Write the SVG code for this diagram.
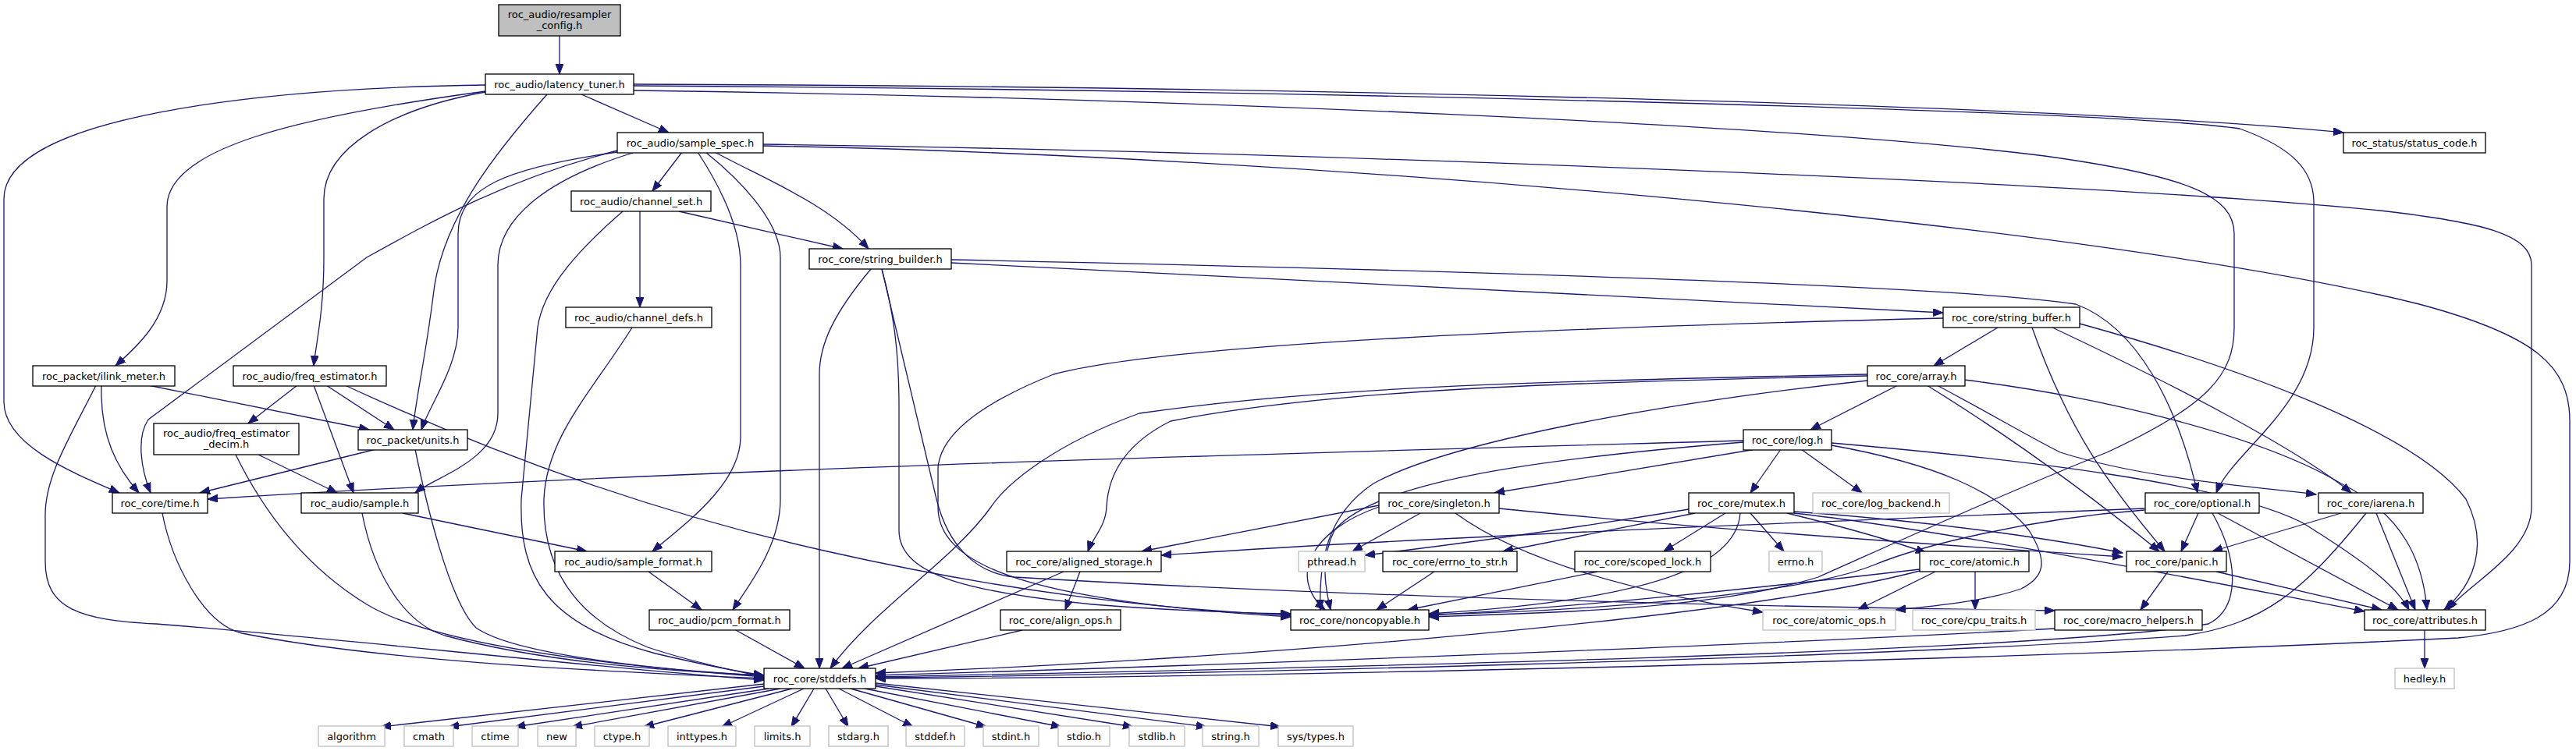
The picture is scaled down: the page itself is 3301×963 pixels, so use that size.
<svg xmlns="http://www.w3.org/2000/svg" width="3301" height="963" viewBox="0 0 3301 963">
<style>
.n rect{fill:#fff;stroke:#000;stroke-width:1.3}
.x rect{fill:#fff;stroke:#bfbfbf;stroke-width:1.3}
.r rect{fill:#bfbfbf;stroke:#000;stroke-width:1.3}
text{font-family:"DejaVu Sans",sans-serif;font-size:13px;fill:#000;text-anchor:middle}
#edges path{fill:none;stroke:#191970;stroke-width:1.3;marker-end:url(#a)}
</style>
<defs>
<marker id="a" markerWidth="14" markerHeight="11" refX="13" refY="5" orient="auto" markerUnits="userSpaceOnUse"><path d="M0,0 L13,5 L0,10 z" fill="#191970" stroke="#191970" stroke-width="1"/></marker>
</defs>
<rect width="3301" height="963" fill="#fff"/>
<g id="edges">
<path d="M717,46 L717,95"/>
<path d="M622,109 C330,113 5,150 5,255 L5,515 C5,570 90,605 153,632"/>
<path d="M622,117 C380,150 214,190 214,265 L214,360 C214,410 175,445 148,469"/>
<path d="M622,118 C500,140 415,190 415,255 L415,330 C415,400 405,440 402,469"/>
<path d="M701,121 C640,190 565,280 555,380 C545,460 533,510 529,551"/>
<path d="M745,121 L857,170"/>
<path d="M812,108 C1500,110 2600,130 3003,170"/>
<path d="M812,110 C1600,115 2700,140 2870,165 C2940,190 2965,220 2965,260 L2965,420 C2965,520 2860,580 2840,632"/>
<path d="M812,116 C1500,125 2300,160 2620,200 C2800,225 2863,250 2863,300 L2863,420 C2863,480 2830,520 2700,580 C2550,640 2420,700 2330,740 C2200,780 2000,786 1831,791"/>
<path d="M978,185 C1700,195 2700,235 3050,270 C3180,285 3244,300 3244,340 L3244,650 C3244,710 3160,750 3137,782"/>
<path d="M978,187 C1700,200 2700,290 3100,390 C3250,430 3293,470 3293,540 L3293,720 C3293,790 3230,810 3150,818 C2500,850 1500,870 1122,870"/>
<path d="M874,195 L836,245"/>
<path d="M916,195 C980,230 1060,260 1113,319"/>
<path d="M894,195 C930,250 949,300 949,340 L949,560 C949,620 880,670 836,707"/>
<path d="M904,195 C960,240 1000,290 1000,330 L1000,640 C1000,700 960,750 939,782"/>
<path d="M791,193 C650,230 560,280 470,330 L190,538 C175,560 180,600 193,632"/>
<path d="M791,195 C650,215 587,240 587,300 L587,420 C587,470 550,520 540,551"/>
<path d="M811,196 C700,230 638,280 638,340 L638,530 C638,590 560,610 532,632"/>
<path d="M820,271 L820,394"/>
<path d="M870,271 L1080,319"/>
<path d="M798,271 C730,330 690,380 688,430 L668,640 C665,740 700,800 840,838 C900,852 950,862 979,866"/>
<path d="M810,420 C760,500 700,560 697,640 C695,720 730,790 830,830 C890,850 950,862 979,868"/>
<path d="M190,494 L473,551"/>
<path d="M130,494 C128,560 150,600 178,632"/>
<path d="M123,494 C90,560 58,610 58,660 L58,720 C58,780 100,795 200,800 C400,815 800,860 979,872"/>
<path d="M381,494 L318,543"/>
<path d="M418,494 L505,551"/>
<path d="M402,494 L453,632"/>
<path d="M442,494 C650,590 850,660 1060,707 C1250,750 1450,780 1654,789"/>
<path d="M331,583 L432,632"/>
<path d="M302,583 C330,640 380,720 470,775 C560,830 800,855 979,868"/>
<path d="M482,576 L256,632"/>
<path d="M532,576 C545,640 575,770 610,805 C660,840 850,860 979,866"/>
<path d="M208,658 C220,720 260,800 310,812 C500,850 800,862 979,870"/>
<path d="M516,658 L752,707"/>
<path d="M464,658 C480,740 520,800 570,815 C700,850 850,860 979,866"/>
<path d="M831,733 L899,782"/>
<path d="M943,808 L1031,857"/>
<path d="M1219,337 C1700,360 2300,395 2490,401"/>
<path d="M1219,333 C1800,345 2500,365 2660,390 C2740,420 2790,520 2816,632"/>
<path d="M1116,345 C1070,400 1050,440 1050,480 L1050,857"/>
<path d="M1130,345 C1145,400 1152,450 1152,520 L1152,680 C1152,740 1250,760 1400,775 C1500,783 1600,786 1654,787"/>
<path d="M1130,345 L1200,640 C1215,700 1250,735 1300,740 C1800,770 2400,780 2633,783"/>
<path d="M2490,408 C2000,420 1500,440 1350,480 C1250,520 1205,560 1202,600 L1202,650 C1202,720 1300,770 1654,791"/>
<path d="M2560,420 L2478,469"/>
<path d="M2604,420 C2650,550 2700,620 2774,707"/>
<path d="M2630,420 C2800,500 2950,580 3013,632"/>
<path d="M2665,415 C2900,480 3100,560 3160,640 C3190,700 3170,750 3132,782"/>
<path d="M2432,494 L2320,551"/>
<path d="M2393,482 C2000,490 1700,500 1500,540 C1440,570 1420,610 1418,650 C1417,675 1400,690 1394,707"/>
<path d="M2393,480 C2000,488 1700,495 1460,530 C1350,570 1290,620 1270,650 C1220,720 1120,780 1064,857"/>
<path d="M2393,488 C2100,520 1850,570 1760,620 C1700,660 1690,720 1692,782"/>
<path d="M2469,494 C2560,550 2660,620 2767,707"/>
<path d="M2482,494 C2550,530 2600,560 2640,580 C2750,615 2900,625 2968,634"/>
<path d="M2517,487 C2700,510 2900,560 3000,620 C3080,660 3105,720 3110,782"/>
<path d="M2250,576 L1915,632"/>
<path d="M2282,576 L2243,632"/>
<path d="M2308,576 L2386,632"/>
<path d="M2234,565 C1700,580 900,600 266,640"/>
<path d="M2234,567 C1950,590 1760,620 1710,680 C1690,720 1700,760 1705,782"/>
<path d="M2347,568 C2600,590 2850,620 2950,670 C3030,720 3070,750 3087,782"/>
<path d="M2347,571 C2480,595 2560,630 2600,680 C2625,720 2620,740 2590,755 C2540,772 2470,778 2429,782"/>
<path d="M1820,658 L1733,707"/>
<path d="M1865,658 C1950,720 2100,760 2259,785"/>
<path d="M1921,652 C2200,680 2500,700 2720,714"/>
<path d="M1767,648 C1650,670 1550,690 1463,707"/>
<path d="M1767,650 C1680,680 1650,740 1698,782"/>
<path d="M2164,653 C2000,680 1850,700 1749,712"/>
<path d="M2172,658 L1926,707"/>
<path d="M2211,658 L2132,707"/>
<path d="M2243,658 L2286,707"/>
<path d="M2230,658 C2225,730 2100,770 1831,787"/>
<path d="M2290,658 C2380,680 2430,695 2468,709"/>
<path d="M2299,656 C2500,670 2650,695 2720,709"/>
<path d="M2299,658 C2450,675 2700,720 3030,784"/>
<path d="M1838,733 L1764,782"/>
<path d="M2047,733 L1804,782"/>
<path d="M2460,730 C2200,760 2000,780 1831,789"/>
<path d="M2480,733 L2381,782"/>
<path d="M2531,733 L2531,782"/>
<path d="M2460,732 C2200,800 1500,850 1122,863"/>
<path d="M2778,733 L2743,782"/>
<path d="M2840,733 L3052,782"/>
<path d="M2817,658 L2795,707"/>
<path d="M2842,658 L3073,782"/>
<path d="M2835,658 C2870,720 2870,780 2830,800 C2600,840 1500,860 1122,868"/>
<path d="M2748,654 C2600,665 2460,700 2400,725 C2300,765 2000,785 1831,788"/>
<path d="M2748,652 C2300,670 1800,690 1488,712"/>
<path d="M3000,658 L2835,707"/>
<path d="M3045,658 L3095,782"/>
<path d="M3032,658 C2950,760 2900,800 2800,815 C2400,845 1500,865 1122,869"/>
<path d="M1384,733 L1365,782"/>
<path d="M1363,733 L1079,857"/>
<path d="M1310,808 L1100,857"/>
<path d="M2633,806 C2200,830 1500,855 1122,866"/>
<path d="M3107,808 L3107,857"/>
<path d="M979,877 L488,932"/>
<path d="M979,880 L575,932"/>
<path d="M985,883 L660,932"/>
<path d="M1000,883 L733,932"/>
<path d="M1015,883 L825,932"/>
<path d="M1030,883 L925,932"/>
<path d="M1043,883 L1014,932"/>
<path d="M1058,883 L1087,932"/>
<path d="M1075,883 L1170,932"/>
<path d="M1090,883 L1264,932"/>
<path d="M1108,883 L1360,932"/>
<path d="M1122,880 L1452,932"/>
<path d="M1122,878 L1546,932"/>
<path d="M1122,876 L1641,932"/>
</g>
<g id="n_resampler_config" class="r"><rect x="639" y="6" width="156" height="40"/><text x="717" y="22.5">roc_audio/resampler</text><text x="717" y="36.5">_config.h</text></g>
<g id="n_latency_tuner" class="n"><rect x="622" y="95" width="190" height="26"/><text x="717" y="112.5">roc_audio/latency_tuner.h</text></g>
<g id="n_sample_spec" class="n"><rect x="791" y="170" width="187" height="26"/><text x="884.5" y="187.5">roc_audio/sample_spec.h</text></g>
<g id="n_status_code" class="n"><rect x="3003" y="170" width="182" height="26"/><text x="3094" y="187.5">roc_status/status_code.h</text></g>
<g id="n_channel_set" class="n"><rect x="732" y="245" width="179" height="26"/><text x="821.5" y="262.5">roc_audio/channel_set.h</text></g>
<g id="n_string_builder" class="n"><rect x="1037" y="319" width="182" height="26"/><text x="1128" y="336.5">roc_core/string_builder.h</text></g>
<g id="n_channel_defs" class="n"><rect x="725" y="394" width="187" height="26"/><text x="818.5" y="411.5">roc_audio/channel_defs.h</text></g>
<g id="n_string_buffer" class="n"><rect x="2490" y="394" width="175" height="26"/><text x="2577.5" y="411.5">roc_core/string_buffer.h</text></g>
<g id="n_ilink_meter" class="n"><rect x="42" y="469" width="182" height="26"/><text x="133" y="486.5">roc_packet/ilink_meter.h</text></g>
<g id="n_freq_estimator" class="n"><rect x="299" y="469" width="196" height="26"/><text x="397" y="486.5">roc_audio/freq_estimator.h</text></g>
<g id="n_array" class="n"><rect x="2393" y="469" width="125" height="26"/><text x="2455.5" y="486.5">roc_core/array.h</text></g>
<g id="n_freq_estimator_decim" class="n"><rect x="197" y="543" width="186" height="40"/><text x="290" y="559.5">roc_audio/freq_estimator</text><text x="290" y="573.5">_decim.h</text></g>
<g id="n_units" class="n"><rect x="459" y="551" width="140" height="26"/><text x="529" y="568.5">roc_packet/units.h</text></g>
<g id="n_log" class="n"><rect x="2234" y="551" width="113" height="26"/><text x="2290.5" y="568.5">roc_core/log.h</text></g>
<g id="n_time" class="n"><rect x="144" y="632" width="122" height="26"/><text x="205" y="649.5">roc_core/time.h</text></g>
<g id="n_sample" class="n"><rect x="386" y="632" width="150" height="26"/><text x="461" y="649.5">roc_audio/sample.h</text></g>
<g id="n_singleton" class="n"><rect x="1767" y="632" width="154" height="26"/><text x="1844" y="649.5">roc_core/singleton.h</text></g>
<g id="n_mutex" class="n"><rect x="2164" y="632" width="135" height="26"/><text x="2231.5" y="649.5">roc_core/mutex.h</text></g>
<g id="n_log_backend" class="x"><rect x="2323" y="632" width="175" height="26"/><text x="2410.5" y="649.5">roc_core/log_backend.h</text></g>
<g id="n_optional" class="n"><rect x="2749" y="632" width="146" height="26"/><text x="2822" y="649.5">roc_core/optional.h</text></g>
<g id="n_iarena" class="n"><rect x="2971" y="632" width="134" height="26"/><text x="3038" y="649.5">roc_core/iarena.h</text></g>
<g id="n_sample_format" class="n"><rect x="711" y="707" width="201" height="26"/><text x="811.5" y="724.5">roc_audio/sample_format.h</text></g>
<g id="n_aligned_storage" class="n"><rect x="1290" y="707" width="198" height="26"/><text x="1389" y="724.5">roc_core/aligned_storage.h</text></g>
<g id="n_pthread" class="x"><rect x="1664" y="707" width="85" height="26"/><text x="1706.5" y="724.5">pthread.h</text></g>
<g id="n_errno_to_str" class="n"><rect x="1772" y="707" width="172" height="26"/><text x="1858" y="724.5">roc_core/errno_to_str.h</text></g>
<g id="n_scoped_lock" class="n"><rect x="2018" y="707" width="174" height="26"/><text x="2105" y="724.5">roc_core/scoped_lock.h</text></g>
<g id="n_errno" class="x"><rect x="2267" y="707" width="68" height="26"/><text x="2301" y="724.5">errno.h</text></g>
<g id="n_atomic" class="n"><rect x="2460" y="707" width="140" height="26"/><text x="2530" y="724.5">roc_core/atomic.h</text></g>
<g id="n_panic" class="n"><rect x="2725" y="707" width="128" height="26"/><text x="2789" y="724.5">roc_core/panic.h</text></g>
<g id="n_pcm_format" class="n"><rect x="832" y="782" width="180" height="26"/><text x="922" y="799.5">roc_audio/pcm_format.h</text></g>
<g id="n_align_ops" class="n"><rect x="1282" y="782" width="154" height="26"/><text x="1359" y="799.5">roc_core/align_ops.h</text></g>
<g id="n_noncopyable" class="n"><rect x="1654" y="782" width="177" height="26"/><text x="1742.5" y="799.5">roc_core/noncopyable.h</text></g>
<g id="n_atomic_ops" class="x"><rect x="2259" y="782" width="170" height="26"/><text x="2344" y="799.5">roc_core/atomic_ops.h</text></g>
<g id="n_cpu_traits" class="x"><rect x="2451" y="782" width="157" height="26"/><text x="2529.5" y="799.5">roc_core/cpu_traits.h</text></g>
<g id="n_macro_helpers" class="n"><rect x="2633" y="782" width="189" height="26"/><text x="2727.5" y="799.5">roc_core/macro_helpers.h</text></g>
<g id="n_attributes" class="n"><rect x="3030" y="782" width="155" height="26"/><text x="3107.5" y="799.5">roc_core/attributes.h</text></g>
<g id="n_stddefs" class="n"><rect x="979" y="857" width="143" height="26"/><text x="1050.5" y="874.5">roc_core/stddefs.h</text></g>
<g id="n_hedley" class="x"><rect x="3069" y="857" width="76" height="26"/><text x="3107" y="874.5">hedley.h</text></g>
<g id="n_algorithm" class="x"><rect x="408" y="931" width="85" height="26"/><text x="450.5" y="948.5">algorithm</text></g>
<g id="n_cmath" class="x"><rect x="518" y="931" width="63" height="26"/><text x="549.5" y="948.5">cmath</text></g>
<g id="n_ctime" class="x"><rect x="605" y="931" width="59" height="26"/><text x="634.5" y="948.5">ctime</text></g>
<g id="n_new" class="x"><rect x="689" y="931" width="49" height="26"/><text x="713.5" y="948.5">new</text></g>
<g id="n_ctype" class="x"><rect x="762" y="931" width="70" height="26"/><text x="797" y="948.5">ctype.h</text></g>
<g id="n_inttypes" class="x"><rect x="856" y="931" width="87" height="26"/><text x="899.5" y="948.5">inttypes.h</text></g>
<g id="n_limits" class="x"><rect x="967" y="931" width="71" height="26"/><text x="1002.5" y="948.5">limits.h</text></g>
<g id="n_stdarg" class="x"><rect x="1062" y="931" width="76" height="26"/><text x="1100" y="948.5">stdarg.h</text></g>
<g id="n_stddef" class="x"><rect x="1161" y="931" width="75" height="26"/><text x="1198.5" y="948.5">stddef.h</text></g>
<g id="n_stdint" class="x"><rect x="1260" y="931" width="71" height="26"/><text x="1295.5" y="948.5">stdint.h</text></g>
<g id="n_stdio" class="x"><rect x="1356" y="931" width="66" height="26"/><text x="1389" y="948.5">stdio.h</text></g>
<g id="n_stdlib" class="x"><rect x="1447" y="931" width="71" height="26"/><text x="1482.5" y="948.5">stdlib.h</text></g>
<g id="n_string" class="x"><rect x="1541" y="931" width="72" height="26"/><text x="1577" y="948.5">string.h</text></g>
<g id="n_sys_types" class="x"><rect x="1638" y="931" width="96" height="26"/><text x="1686" y="948.5">sys/types.h</text></g>
</svg>
